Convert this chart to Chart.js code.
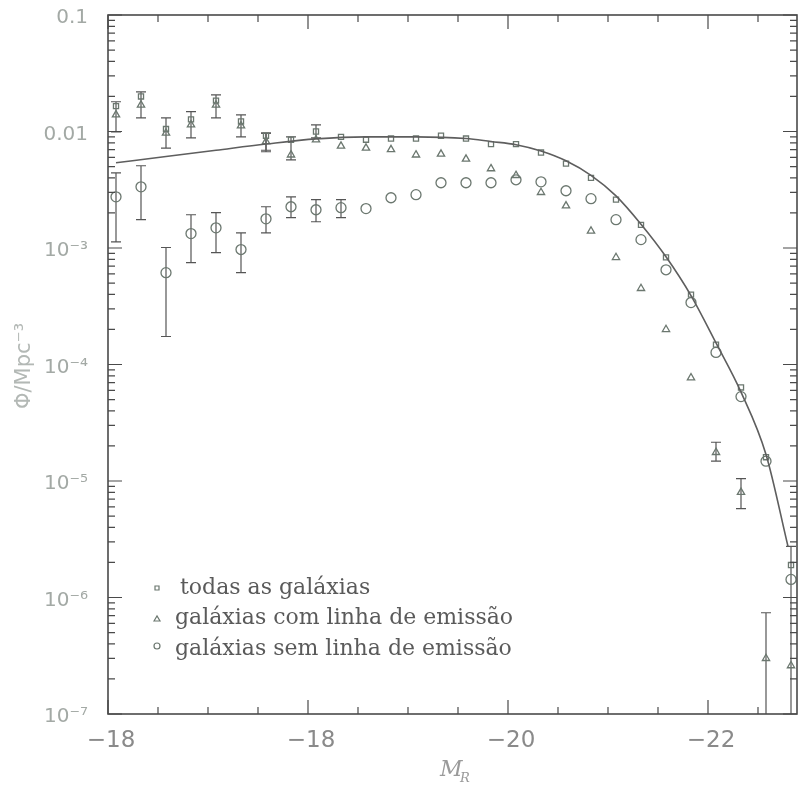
<!DOCTYPE html>
<html>
<head>
<meta charset="utf-8">
<script src="https://cdn.jsdelivr.net/npm/chart.js@4.4.1/dist/chart.umd.min.js"></script>
<style>
  html, body { margin: 0; padding: 0; background: #fff; }
  #wrap { width: 798px; height: 787px; }
</style>
</head>
<body>
<div id="wrap"><canvas id="lf" width="798" height="787"></canvas></div>
<script>
// Centros dos bins em magnitude absoluta M_R
const magnitudes = [-16.08, -16.33, -16.58, -16.83, -17.08, -17.33, -17.58, -17.83, -18.08, -18.33,
                    -18.58, -18.83, -19.08, -19.33, -19.58, -19.83, -20.08, -20.33, -20.58, -20.83,
                    -21.08, -21.33, -21.58, -21.83, -22.08, -22.33, -22.58, -22.83];

// Todas as galáxias
const todasPhi = [0.0165, 0.0200, 0.0105, 0.0127, 0.0184, 0.0122, 0.0092, 0.0085, 0.0100, 0.0090,
                  0.0085, 0.0087, 0.0087, 0.0092, 0.0087, 0.0078, 0.0078, 0.0066, 0.0053, 0.0040,
                  0.0026, 0.00158, 0.00083, 0.000398, 0.000148, 6.35e-5, 1.6e-5, 1.9e-6];
const todasLow = [null, null, null, null, null, null, 0.0069, 0.0057, 0.0088, null,
                  null, null, null, null, null, null, null, null, null, null,
                  null, null, null, null, null, null, null, 1e-9];
const todasHigh = [null, null, null, null, null, null, 0.0097, 0.0090, 0.0114, null,
                   null, null, null, null, null, null, null, null, null, null,
                   null, null, null, null, null, null, null, 2.75e-6];

// Galáxias com linha de emissão
const comPhi = [0.0139, 0.0169, 0.0097, 0.0114, 0.0169, 0.0112, 0.0082, 0.0063, 0.0085, 0.0075,
                0.0072, 0.0070, 0.0063, 0.0064, 0.0058, 0.0048, 0.0042, 0.0030, 0.0023, 0.0014,
                0.00083, 0.00045, 0.00020, 7.7e-5, 1.76e-5, 8.0e-6, 3.0e-7, 2.6e-7];
const comLow = [0.0099, 0.0131, 0.0072, 0.0088, 0.0131, 0.0090, 0.0067, null, null, null,
                null, null, null, null, null, null, null, null, null, null,
                null, null, null, null, 1.48e-5, 5.8e-6, 1e-9, null];
const comHigh = [0.0180, 0.0219, 0.0131, 0.0148, 0.0206, 0.0139, 0.0097, null, null, null,
                 null, null, null, null, null, null, null, null, null, null,
                 null, null, null, null, 2.15e-5, 1.05e-5, 7.4e-7, null];

// Galáxias sem linha de emissão
const semPhi = [0.00275, 0.00335, 0.000614, 0.00133, 0.00149, 0.00097, 0.00178, 0.00226, 0.00213, 0.00222,
                0.00218, 0.0027, 0.00287, 0.00363, 0.00363, 0.00363, 0.00385, 0.0037, 0.0031, 0.00265,
                0.00175, 0.00118, 0.00065, 0.00034, 0.000127, 5.3e-5, 1.48e-5, 1.43e-6];
const semLow = [0.00113, 0.00175, 0.000174, 0.000749, 0.000912, 0.000614, 0.00135, 0.00182, 0.00168, 0.00182,
                null, null, null, null, null, null, null, null, null, null,
                null, null, null, null, null, null, null, null];
const semHigh = [0.00442, 0.00508, 0.00101, 0.00193, 0.00201, 0.00135, 0.00226, 0.00275, 0.0026, 0.0026,
                 null, null, null, null, null, null, null, null, null, null,
                 null, null, null, null, null, null, null, null];

// Curva ajustada
const fitMag = [-16.08, -16.58, -17.08, -17.58, -18.08, -18.58, -19.08, -19.58, -19.83, -20.08,
                -20.33, -20.58, -20.83, -21.08, -21.33, -21.58, -21.83, -22.08, -22.33, -22.58, -22.80];
const fitPhi = [0.00539, 0.0061, 0.0069, 0.0078, 0.00865, 0.0090, 0.0090, 0.0087, 0.0082, 0.0077,
                0.0068, 0.0056, 0.0042, 0.0028, 0.0016, 0.00084, 0.00039, 0.000153, 5.8e-5, 1.69e-5, 2.75e-6];

// Rótulos dos eixos
const xTickValues = [-16, -18, -20, -22];
const xTickLabels = ['−18', '−18', '−20', '−22'];
const yTickValues = [0.1, 0.01, 1e-3, 1e-4, 1e-5, 1e-6, 1e-7];
const yTickLabels = ['0.1', '0.01', '10⁻³', '10⁻⁴', '10⁻⁵', '10⁻⁶', '10⁻⁷'];
const legendLabels = ['todas as galáxias', 'galáxias com linha de emissão', 'galáxias sem linha de emissão'];

const symbolColor = '#6b776f';
const axisColor = '#4a4a4a';

function toPoints(xs, ys) {
    return xs.map((m, i) => ({ x: m, y: ys[i] }));
}

// Barras de erro desenhadas com as escalas do gráfico
function drawErrorBars(chart, mags, lows, highs) {
    const ctx = chart.ctx;
    const xs = chart.scales.x, ys = chart.scales.y;
    ctx.beginPath();
    for (let i = 0; i < mags.length; i++) {
        if (lows[i] == null || highs[i] == null) continue;
        const px = xs.getPixelForValue(mags[i]);
        const p1 = ys.getPixelForValue(lows[i]);
        const p2 = ys.getPixelForValue(highs[i]);
        ctx.moveTo(px, p1); ctx.lineTo(px, p2);
        ctx.moveTo(px - 5, p1); ctx.lineTo(px + 5, p1);
        ctx.moveTo(px - 5, p2); ctx.lineTo(px + 5, p2);
    }
    ctx.stroke();
}

const frame = {
    id: 'frame',
    beforeDatasetsDraw(chart) {
        const ctx = chart.ctx, a = chart.chartArea;
        ctx.save();
        ctx.beginPath();
        ctx.rect(a.left, a.top, a.right - a.left, a.bottom - a.top);
        ctx.clip();
        ctx.strokeStyle = '#555';
        ctx.lineWidth = 1.2;
        drawErrorBars(chart, magnitudes, todasLow, todasHigh);
        drawErrorBars(chart, magnitudes, comLow, comHigh);
        drawErrorBars(chart, magnitudes, semLow, semHigh);
        ctx.restore();
    },
    afterDraw(chart) {
        const ctx = chart.ctx, a = chart.chartArea;
        const xs = chart.scales.x, ys = chart.scales.y;
        ctx.save();
        ctx.strokeStyle = axisColor;
        ctx.lineWidth = 1.6;
        ctx.strokeRect(a.left, a.top, a.right - a.left, a.bottom - a.top);

        // marcas do eixo y (décadas e subdivisões), dos dois lados
        ctx.lineWidth = 1.2;
        ctx.beginPath();
        for (let d = -7; d <= -1; d++) {
            for (let m = 1; m <= 9; m++) {
                const v = m * Math.pow(10, d);
                if (v > 0.1 * 1.0001) break;
                const py = ys.getPixelForValue(v);
                const len = m === 1 ? 14 : 7;
                ctx.moveTo(a.left, py); ctx.lineTo(a.left + len, py);
                ctx.moveTo(a.right, py); ctx.lineTo(a.right - len, py);
            }
        }
        // marcas do eixo x
        for (let k = 0; k <= 13; k++) {
            const v = -16 - 0.5 * k;
            const px = xs.getPixelForValue(v);
            const len = (k % 4 === 0) ? 14 : 7;
            ctx.moveTo(px, a.bottom); ctx.lineTo(px, a.bottom - len);
            ctx.moveTo(px, a.top); ctx.lineTo(px, a.top + len);
        }
        ctx.stroke();

        // rótulos do eixo y
        ctx.fillStyle = '#a3a9a5';
        ctx.font = '20px "DejaVu Sans"';
        ctx.textAlign = 'right';
        ctx.textBaseline = 'middle';
        yTickValues.forEach((v, i) => {
            ctx.fillText(yTickLabels[i], 88, ys.getPixelForValue(v) + 3);
        });

        // rótulos do eixo x
        ctx.fillStyle = '#8a8a8a';
        ctx.font = '23px "DejaVu Sans"';
        ctx.textAlign = 'center';
        xTickValues.forEach((v, i) => {
            ctx.fillText(xTickLabels[i], xs.getPixelForValue(v) + 3, 741);
        });

        // título do eixo x: M_R
        ctx.fillStyle = '#9a9a9a';
        ctx.font = 'italic 22px "DejaVu Serif"';
        ctx.textAlign = 'left';
        ctx.fillText('M', 440, 770);
        ctx.font = 'italic 13px "DejaVu Serif"';
        ctx.fillText('R', 460, 779);

        // título do eixo y
        ctx.save();
        ctx.translate(25, 366);
        ctx.rotate(-Math.PI / 2);
        ctx.fillStyle = '#b3b8b5';
        ctx.font = '21px "DejaVu Sans"';
        ctx.textAlign = 'center';
        ctx.fillText('Φ/Mpc⁻³', 0, 0);
        ctx.restore();

        // legenda
        const rows = [588, 618, 649];
        const starts = [180, 175, 175];
        ctx.font = '22px "DejaVu Serif"';
        ctx.fillStyle = '#5a5a5a';
        ctx.textAlign = 'left';
        legendLabels.forEach((t, i) => ctx.fillText(t, starts[i], rows[i]));
        ctx.strokeStyle = symbolColor;
        ctx.lineWidth = 1.2;
        ctx.beginPath();
        ctx.rect(155, rows[0] - 2, 4, 4);
        ctx.moveTo(154, rows[1] + 3); ctx.lineTo(157, rows[1] - 2); ctx.lineTo(160, rows[1] + 3); ctx.closePath();
        ctx.moveTo(160, rows[2] - 3);
        ctx.arc(157, rows[2] - 3, 3, 0, Math.PI * 2);
        ctx.stroke();
        ctx.restore();
    }
};

const canvas = document.getElementById('lf');
new Chart(canvas.getContext('2d'), {
    type: 'scatter',
    data: {
        datasets: [
            {
                label: 'ajuste',
                data: toPoints(fitMag, fitPhi),
                showLine: true,
                borderColor: '#5e5e5e',
                borderWidth: 1.6,
                pointRadius: 0,
                cubicInterpolationMode: 'monotone',
                fill: false
            },
            {
                label: legendLabels[0],
                data: toPoints(magnitudes, todasPhi),
                pointStyle: 'rect',
                pointRadius: 3.6,
                borderColor: symbolColor,
                backgroundColor: 'rgba(0,0,0,0)',
                borderWidth: 1.3
            },
            {
                label: legendLabels[1],
                data: toPoints(magnitudes, comPhi),
                pointStyle: 'triangle',
                pointRadius: 4.2,
                borderColor: symbolColor,
                backgroundColor: 'rgba(0,0,0,0)',
                borderWidth: 1.3
            },
            {
                label: legendLabels[2],
                data: toPoints(magnitudes, semPhi),
                pointStyle: 'circle',
                pointRadius: 5,
                borderColor: symbolColor,
                backgroundColor: 'rgba(0,0,0,0)',
                borderWidth: 1.3
            }
        ]
    },
    options: {
        responsive: false,
        animation: false,
        devicePixelRatio: 1,
        layout: { autoPadding: false, padding: { top: 15, right: 1, left: 0, bottom: 0 } },
        plugins: { legend: { display: false }, tooltip: { enabled: false } },
        scales: {
            x: {
                type: 'linear',
                min: -22.89,
                max: -16,
                reverse: true,
                grid: { display: false },
                border: { display: false },
                ticks: { display: false },
                afterFit: s => { s.height = 73; s.paddingLeft = 0; s.paddingRight = 0; }
            },
            y: {
                type: 'logarithmic',
                min: 1e-7,
                max: 0.1,
                grid: { display: false },
                border: { display: false },
                ticks: { display: false },
                afterFit: s => { s.width = 108; s.paddingTop = 0; s.paddingBottom = 0; }
            }
        }
    },
    plugins: [frame]
});
</script>
</body>
</html>
